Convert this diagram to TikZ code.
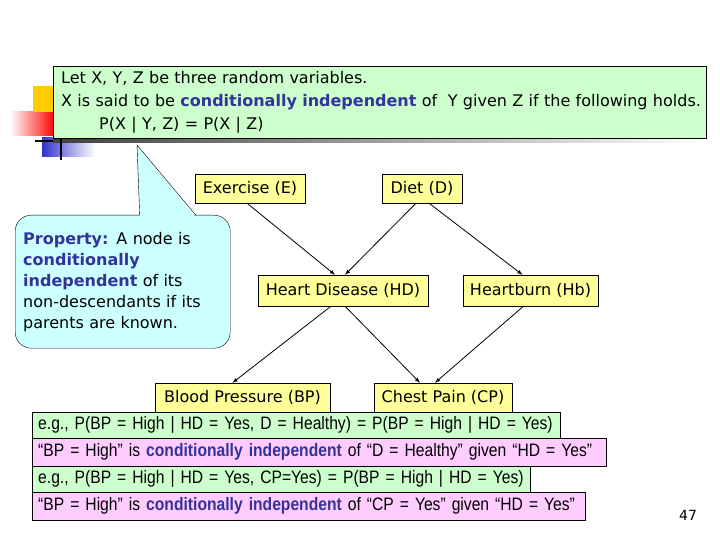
\documentclass[tikz,border=0pt]{standalone}
\usepackage{fontspec}
\setmainfont{DejaVu Sans}
\newfontfamily\narrowfont[FakeStretch=0.87]{Liberation Sans}
\usetikzlibrary{arrows.meta, positioning}
\definecolor{nodeyellow}{RGB}{255,255,153}
\definecolor{boxgreen}{RGB}{204,255,204}
\definecolor{boxpink}{RGB}{255,204,255}
\definecolor{boxcyan}{RGB}{204,255,255}
\definecolor{keyblue}{RGB}{51,51,153}
\definecolor{tplyellow}{RGB}{255,204,0}
\definecolor{tplblue}{RGB}{51,51,204}
\tikzstyle{block}=[draw,fill=nodeyellow,rectangle,minimum height=29pt,inner xsep=6pt]
\tikzstyle{every node}=[font=\fontsize{16}{18}\selectfont]
\tikzstyle{row}=[draw,rectangle,anchor=north west,inner xsep=6pt,inner ysep=0pt,align=left,font=\narrowfont\fontsize{18}{20}\selectfont]
\newcommand{\key}[1]{\textcolor{keyblue}{\textbf{#1}}}

\begin{document}
\begin{tikzpicture}[x=1pt,y=-1pt,>=latex]
    \useasboundingbox (0,0) rectangle (720,540);
    % slide template marks
    \shade[left color=white, right color=red] (10,112) rectangle (55,136);
    \fill[tplyellow] (33,86) rectangle (55,112);
    \shade[left color=tplblue, right color=white] (42,138) rectangle (95,157);
    \shade[left color=black!75, right color=white] (53,138) rectangle (706,143);
    \draw[line width=2pt] (35,141) -- (53,141);
    \node[draw,fill=boxgreen,rectangle,anchor=north west,minimum width=653pt,minimum height=72pt,
          inner xsep=8pt,text width=637pt,align=left,font=\fontsize{16}{23}\selectfont] (def) at (53,66)
        {Let X, Y, Z be three random variables.\\
         \mbox{X is said to be \key{conditionally independent} of~ Y given Z if the following holds.}\\
         \hspace*{38pt}P(X | Y, Z) = P(X | Z)};
    \draw[line width=2pt] (61,138) -- (61,160);

    % callout
    \node[draw,fill=boxcyan,rectangle,rounded corners=16pt,anchor=north west,minimum width=215pt,
          minimum height=133pt,text width=199pt,inner xsep=8pt,align=left,
          font=\fontsize{16}{21}\selectfont] (prop) at (15,215)
        {\key{Property:} A node is\\ \key{conditionally}\\ \key{independent} of its\\
         non-descendants if its\\ parents are known.};
    \coordinate (tip) at (137,145);
    \fill[boxcyan] ([xshift=17pt,yshift=-2pt]prop.north) -- (tip) -- ([xshift=73pt,yshift=-2pt]prop.north) -- cycle;
    \draw ([xshift=17pt]prop.north) -- (tip) -- ([xshift=73pt]prop.north);

    % network
    \node[block, minimum width=110pt] (E) at (250,188.5) {Exercise (E)};
    \node[block, minimum width=80pt] (D) at (422,188.5) {Diet (D)};
    \node[block, minimum width=170pt, minimum height=31pt] (HD) at (343,290.5) {Heart Disease (HD)};
    \node[block, minimum width=135pt, minimum height=31pt] (Hb) at (530.5,290.5) {Heartburn (Hb)};
    \node[block, minimum width=175pt] (BP) at (242.5,397.5) {Blood Pressure (BP)};
    \node[block, minimum width=138pt] (CP) at (443,397.5) {Chest Pain (CP)};
    \draw[->, thick] ([xshift=-3pt]E.south) -- ([xshift=-8pt]HD.north);
    \draw[->, thick] ([xshift=-6pt]D.south) -- ([xshift=2pt]HD.north);
    \draw[->, thick] ([xshift=7pt]D.south) -- ([xshift=-8pt]Hb.north);
    \draw[->, thick] ([xshift=-12pt]HD.south) -- ([xshift=-10pt]BP.north);
    \draw[->, thick] ([xshift=2pt]HD.south) -- ([xshift=-23pt]CP.north);
    \draw[->, thick] ([xshift=-7pt]Hb.south) -- ([xshift=-8pt]CP.north);

    % examples
    \node[row, fill=boxgreen, minimum width=528pt, minimum height=26pt, text width=516pt] (ex1) at (32,412)
        {\mbox{e.g., P(BP = High | HD = Yes, D = Healthy) = P(BP = High | HD = Yes)}};
    \node[row, fill=boxpink, minimum width=574pt, minimum height=28pt, text width=562pt] (ci1) at (32,438)
        {\mbox{“BP = High” is \key{conditionally independent} of “D = Healthy” given “HD = Yes”}};
    \node[row, fill=boxgreen, minimum width=498pt, minimum height=26pt, text width=486pt] (ex2) at (32,466)
        {\mbox{e.g., P(BP = High | HD = Yes, CP=Yes) = P(BP = High | HD = Yes)}};
    \node[row, fill=boxpink, minimum width=553pt, minimum height=28pt, text width=541pt] (ci2) at (32,492)
        {\mbox{“BP = High” is \key{conditionally independent} of “CP = Yes” given “HD = Yes”}};

    \node[font=\fontsize{14}{16}\selectfont] (page) at (688,515) {47};
\end{tikzpicture}
\end{document}
